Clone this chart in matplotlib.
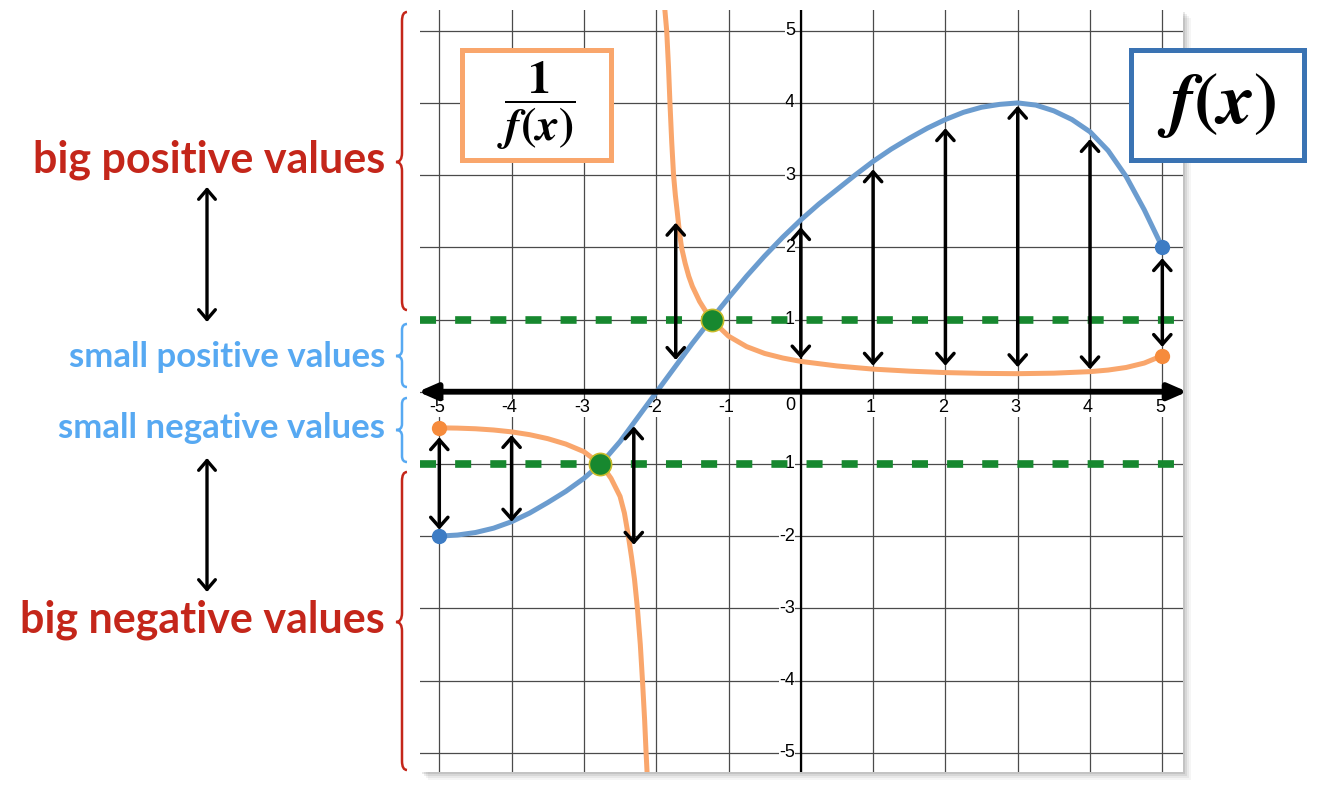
import matplotlib.pyplot as plt
from matplotlib.patches import FancyArrowPatch, Rectangle, PathPatch
from matplotlib.path import Path

W, H = 1336, 787

# f(x)
f_x = [-5, -4.75, -4.5, -4.25, -4, -3.75, -3.5, -3.25, -3, -2.75, -2.5, -2.25, -2,
       -1.75, -1.5, -1.25, -1, -0.75, -0.5, -0.25, 0, 0.25, 0.5, 0.75, 1, 1.25, 1.5,
       1.75, 2, 2.25, 2.5, 2.75, 3, 3.25, 3.5, 3.75, 4, 4.25, 4.5, 4.75, 5]
f_y = [-2.0, -1.985, -1.95, -1.89, -1.80, -1.68, -1.535, -1.38, -1.20, -0.98, -0.69, -0.35, -0.01,
       0.33, 0.67, 0.99, 1.30, 1.60, 1.88, 2.14, 2.38, 2.60, 2.80, 3.00, 3.19, 3.36, 3.51,
       3.65, 3.77, 3.87, 3.94, 3.98, 4.00, 3.97, 3.89, 3.77, 3.60, 3.34, 2.98, 2.52, 2.00]

# 1/f(x), two branches either side of the asymptote
inv_left_x = [-5, -4.75, -4.5, -4.25, -4, -3.75, -3.5, -3.25, -3, -2.75, -2.625, -2.5,
              -2.44, -2.385, -2.34, -2.3, -2.26, -2.22, -2.19, -2.16, -2.14, -2.12]
inv_left_y = [-0.50, -0.504, -0.513, -0.53, -0.556, -0.595, -0.65, -0.725, -0.83, -1.02, -1.2, -1.45,
              -1.68, -2.0, -2.3, -2.6, -3.0, -3.5, -4.0, -4.55, -5.0, -5.4]
inv_right_x = [-1.89, -1.855, -1.83, -1.81, -1.785, -1.76, -1.735, -1.71, -1.68, -1.65, -1.6, -1.55,
               -1.5, -1.4, -1.25, -1.0, -0.75, -0.5, -0.25, 0, 0.5, 1, 1.5, 2, 2.5, 3, 3.5, 4,
               4.25, 4.5, 4.75, 5]
inv_right_y = [5.4, 5.0, 4.5, 4.0, 3.45, 3.0, 2.72, 2.5, 2.22, 2.0, 1.78, 1.6,
               1.46, 1.25, 1.01, 0.77, 0.625, 0.53, 0.467, 0.42, 0.357, 0.313, 0.285, 0.265, 0.254,
               0.25, 0.257, 0.278, 0.30, 0.336, 0.397, 0.50]

# double arrows between the two curves
arrow_x = [-5, -4, -2.31, -1.73, 0, 1, 2, 3, 4, 5]
arrow_top = [-0.63, -0.60, -0.48, 2.34, 2.28, 3.08, 3.65, 3.96, 3.50, 1.85]
arrow_bot = [-1.91, -1.80, -2.12, 0.44, 0.46, 0.36, 0.36, 0.34, 0.31, 0.62]

cross_x = [-2.78, -1.23]
cross_y = [-1, 1]
ticks = [-5, -4, -3, -2, -1, 1, 2, 3, 4, 5]

BLUE = '#6b9ccf'
BLUE_DOT = '#3d7cc4'
ORANGE = '#f9a66c'
ORANGE_DOT = '#f68b3c'
GREEN = '#17882f'
RED = '#c4261a'
LIGHT = '#57a9f2'


def fp(x, y):
    return x / W, 1 - y / H


fig = plt.figure(figsize=(W / 100, H / 100), dpi=100)

# panel shadow
for off, a in [(8, 0.04), (6, 0.05), (4, 0.07), (2, 0.09)]:
    fig.patches.append(Rectangle(fp(420 + off, 772 + off), 763 / W, 762 / H,
                                 transform=fig.transFigure, color='k', alpha=a, lw=0, zorder=-5))

ax = fig.add_axes([420 / W, 1 - 772 / H, 763 / W, 762 / H], zorder=1)
ax.set_xlim(-5.267, 5.286)
ax.set_ylim(-5.267, 5.287)
ax.set_xticks(range(-5, 6))
ax.set_yticks(range(-5, 6))
ax.grid(color='#4a4a4a', lw=0.9)
ax.set_axisbelow(True)
ax.tick_params(length=0, labelbottom=False, labelleft=False)
for s in ax.spines.values():
    s.set_visible(False)

ax.axvline(0, color='k', lw=1.6, zorder=1)

# tick labels
for v in ticks:
    ax.text(v - 0.03, -0.225, str(v), ha='center', va='center', fontsize=13, family='Liberation Sans',
            bbox=dict(fc='white', ec='none', pad=0.2), zorder=2)
    ax.text(-0.08, v, str(v), ha='right', va='center', fontsize=13, family='Liberation Sans',
            bbox=dict(fc='white', ec='none', pad=0.2), zorder=2)
ax.text(-0.08, -0.19, '0', ha='right', va='center', fontsize=13, family='Liberation Sans', zorder=2)

# green dashed levels y = 1 and y = -1
for lv in [1, -1]:
    ax.plot([-5.267, 5.286], [lv, lv], color=GREEN, lw=5.5, dashes=(2.1, 2.5), zorder=3)

# curves
ax.plot(f_x, f_y, color=BLUE, lw=3.6, solid_capstyle='round', solid_joinstyle='round', zorder=4)
ax.plot(inv_left_x, inv_left_y, color=ORANGE, lw=3.6, solid_capstyle='round',
        solid_joinstyle='round', zorder=4)
ax.plot(inv_right_x, inv_right_y, color=ORANGE, lw=3.6, solid_capstyle='round',
        solid_joinstyle='round', zorder=4)

ax.plot([f_x[0], f_x[-1]], [f_y[0], f_y[-1]], 'o', color=BLUE_DOT, ms=11, mec='none', zorder=5)
ax.plot([inv_left_x[0], inv_right_x[-1]], [inv_left_y[0], inv_right_y[-1]], 'o',
        color=ORANGE_DOT, ms=11, mec='none', zorder=5)

# x axis with arrows at both ends
ax.add_patch(FancyArrowPatch((-5.295, 0), (5.345, 0), arrowstyle='<|-|>,head_length=11,head_width=4.8',
                             mutation_scale=1, lw=4.2, color='k', shrinkA=0, shrinkB=0,
                             clip_on=False, zorder=6))

for x, t, b in zip(arrow_x, arrow_top, arrow_bot):
    ax.add_patch(FancyArrowPatch((x, b), (x, t), arrowstyle='<->,head_length=7,head_width=6.2',
                                 mutation_scale=1, lw=2.5, color='k', shrinkA=0, shrinkB=0,
                                 clip_on=False, zorder=7))

ax.plot(cross_x, cross_y, 'o', color=GREEN, ms=16, mec='#c9bb2a', mew=1.2, zorder=8)

# labelled boxes
fig.patches.append(Rectangle(fp(462.5, 160), 148.3 / W, 110.2 / H, transform=fig.transFigure,
                             fc='white', ec=ORANGE, lw=3.6, zorder=10))
fig.patches.append(Rectangle(fp(1130.8, 160), 172.7 / W, 110.2 / H, transform=fig.transFigure,
                             fc='white', ec='#3a73b3', lw=3.6, zorder=10))
fig.text(*fp(536.6, 106), r'$\dfrac{\mathbf{1}}{\boldsymbol{f(x)}}$', ha='center', va='center',
         fontsize=33, math_fontfamily='stix', zorder=11)
fig.text(*fp(1217, 105), r'$\boldsymbol{f(x)}$', ha='center', va='center',
         fontsize=52, math_fontfamily='stix', zorder=11)

# left-hand labels
fig.text(*fp(385, 173), 'big positive values', ha='right', va='baseline', color=RED,
         fontsize=31, family='Lato', weight='bold')
fig.text(*fp(385, 366.7), 'small positive values', ha='right', va='baseline', color=LIGHT,
         fontsize=25, family='Lato', weight='bold')
fig.text(*fp(385, 438.3), 'small negative values', ha='right', va='baseline', color=LIGHT,
         fontsize=25, family='Lato', weight='bold')
fig.text(*fp(385, 632.7), 'big negative values', ha='right', va='baseline', color=RED,
         fontsize=31, family='Lato', weight='bold')


def brace(y_top, y_tip, y_bot, color, h):
    xr, xm, xl = 407, 402, 396
    pts = [(xr, y_top), (xm, y_top), (xm, y_top + h),
           (xm, y_tip - h), (xm, y_tip), (xl, y_tip),
           (xm, y_tip), (xm, y_tip + h),
           (xm, y_bot - h), (xm, y_bot), (xr, y_bot)]
    codes = [Path.MOVETO, Path.CURVE3, Path.CURVE3, Path.LINETO, Path.CURVE3, Path.CURVE3,
             Path.CURVE3, Path.CURVE3, Path.LINETO, Path.CURVE3, Path.CURVE3]
    path = Path([fp(x, y) for x, y in pts], codes)
    fig.patches.append(PathPatch(path, transform=fig.transFigure, fc='none', ec=color, lw=1.8))


brace(12, 162, 310, RED, 9)
brace(324, 356, 387, LIGHT, 6)
brace(398, 430, 462, LIGHT, 6)
brace(472, 622, 770, RED, 9)

for y0, y1 in [(187, 322), (458, 592)]:
    fig.patches.append(FancyArrowPatch(fp(207, y1), fp(207, y0), transform=fig.transFigure,
                                       arrowstyle='<->,head_length=7,head_width=6',
                                       mutation_scale=1, lw=2.4, color='k', shrinkA=0, shrinkB=0))

fig.savefig('out.png', dpi=100)
